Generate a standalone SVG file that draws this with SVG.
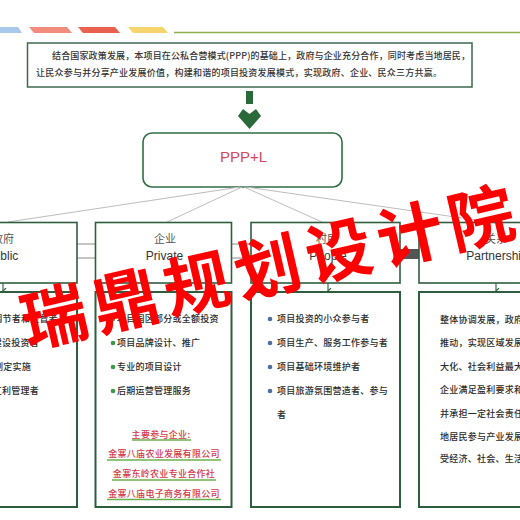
<svg xmlns="http://www.w3.org/2000/svg" width="520" height="520" viewBox="0 0 520 520">
<defs>
<style>
.cj{font-family:"Noto Sans CJK SC",sans-serif;}
.lt{font-family:"Liberation Sans","Noto Sans CJK SC",sans-serif;}
.box{fill:#fff;stroke:#2f5e3f;stroke-width:1.6;}
.bbox{fill:#fff;stroke:#2f5e3f;stroke-width:2;}
.lab{font-size:11px;fill:#555;text-anchor:middle;}
.en{font-size:12px;fill:#333;text-anchor:middle;}
.li{font-size:9px;fill:#2a2a2a;font-weight:500;letter-spacing:0.25px;}
.co{font-size:9px;fill:#d6384c;font-weight:500;text-anchor:middle;letter-spacing:0.3px;}
.ul{stroke:#6ab04c;stroke-width:1.5;}
.fan{stroke:#bdbdbd;stroke-width:1;fill:none;}
.thin{stroke:#8a8a8a;stroke-width:1;fill:none;}
.dn{stroke:#2f6e45;stroke-width:1.2;fill:none;}
</style>
<marker id="oh" markerWidth="8" markerHeight="8" refX="6" refY="3" orient="auto" markerUnits="userSpaceOnUse">
<path d="M0,0 L6,3 L0,6" fill="none" stroke="#6a6a6a" stroke-width="1"/>
</marker>
<marker id="gh" markerWidth="8" markerHeight="8" refX="3" refY="5" orient="auto-start-reverse" markerUnits="userSpaceOnUse" viewBox="0 0 8 8">
<path d="M0,2 L3,5 L6,2" fill="none" stroke="#2f6e45" stroke-width="1.2"/>
</marker>
</defs>
<rect width="520" height="520" fill="#fff"/>

<g id="decoration">
<polygon points="0,27 18,27 22,33 0,33" fill="#a9c9ec"/>
<polygon points="29,27 67,27 72,33 34,33" fill="#f28c7c"/>
<polygon points="78,27 115,27 120,33 83,33" fill="#e9604f"/>
<polygon points="128,27 163,27 168,33 133,33" fill="#f6d66c"/>
<line x1="174" y1="32.5" x2="520" y2="32.5" stroke="#8db04f" stroke-width="1.6"/>
</g>

<g id="intro">
<rect x="27.5" y="43" width="444.5" height="44" fill="#fff" stroke="#3d6a4d" stroke-width="1.5"/>
<text class="cj" x="52" y="59" font-size="9" font-weight="500" fill="#333" textLength="418" lengthAdjust="spacing">结合国家政策发展，本项目在公私合营模式(PPP)的基础上，政府与企业充分合作，同时考虑当地居民，</text>
<text class="cj" x="36" y="75.5" font-size="9" font-weight="500" fill="#333" textLength="406" lengthAdjust="spacing">让民众参与并分享产业发展价值，构建和谐的项目投资发展模式，实现政府、企业、民众三方共赢。</text>
</g>

<g id="down-arrow">
<rect x="246" y="91" width="7" height="13" fill="#2a6a3a"/>
<polygon points="249.5,114 256,109 261,116 249.5,129 238,116 243,109" fill="#2a6a3a"/>
</g>

<g id="ppp">
<rect x="143" y="133" width="199" height="54" rx="9" fill="#fff" stroke="#2f6e45" stroke-width="1.6"/>
<text class="lt" x="243.5" y="162" font-size="15" fill="#d24a5a" text-anchor="middle">PPP+L</text>
</g>

<g id="connectors">
<line class="fan" x1="240" y1="187" x2="8" y2="222"/>
<line class="fan" x1="242" y1="187" x2="167" y2="222"/>
<line class="fan" x1="244" y1="187" x2="322" y2="222"/>
<line class="fan" x1="246" y1="187" x2="490" y2="222"/>
<line class="thin" x1="60" y1="244" x2="112" y2="244" marker-end="url(#oh)"/>
<line class="thin" x1="113" y1="258" x2="61" y2="258" marker-end="url(#oh)"/>
<line class="thin" x1="215" y1="244" x2="270" y2="244" marker-end="url(#oh)"/>
<line class="thin" x1="270" y1="258" x2="215" y2="258"/>
<polygon points="387,249 423,249 423,246 433,254 423,263 423,259 387,259" fill="#555"/>
<line class="dn" x1="3" y1="283" x2="3" y2="291" marker-end="url(#gh)"/>
<line class="dn" x1="170" y1="283" x2="170" y2="291" marker-end="url(#gh)"/>
<line class="dn" x1="328" y1="283" x2="328" y2="291" marker-end="url(#gh)"/>
<line class="dn" x1="496" y1="283" x2="496" y2="291" marker-end="url(#gh)"/>
</g>

<g id="public">
<rect class="box" x="-72" y="222.5" width="149" height="60.5"/>
<text class="cj lab" x="3" y="243">政府</text>
<text class="lt en" x="2" y="259.5">Public</text>
</g>
<g id="private">
<rect class="box" x="95.5" y="222.5" width="136" height="60.5"/>
<text class="cj lab" x="165" y="243">企业</text>
<text class="lt en" x="164.5" y="259.5">Private</text>
</g>
<g id="people">
<rect class="box" x="251" y="222.5" width="149" height="60.5"/>
<text class="cj lab" x="327" y="243">村民</text>
<text class="lt en" x="328" y="259.5">People</text>
</g>
<g id="partnership">
<rect class="box" x="419" y="222.5" width="155" height="60.5"/>
<text class="cj lab" x="496" y="243">关系</text>
<text class="lt en" x="497" y="259.5">Partnership</text>
</g>

<g id="public-roles">
<rect class="bbox" x="-72" y="292" width="149" height="215"/>
<text class="cj li" x="58" y="322" text-anchor="end">宏观调节者和监督者</text>
<text class="cj li" x="39" y="346" text-anchor="end">基础建设投资者</text>
<text class="cj li" x="31" y="370" text-anchor="end">规划制定实施</text>
<text class="cj li" x="39" y="394" text-anchor="end">公共红利管理者</text>
</g>

<g id="private-roles">
<rect class="bbox" x="95.5" y="292" width="136" height="215"/>
<g fill="#3a9a4a">
<circle cx="113" cy="319" r="2.3"/>
<circle cx="113" cy="343" r="2.3"/>
<circle cx="113" cy="367" r="2.3"/>
<circle cx="113" cy="391" r="2.3"/>
</g>
<text class="cj li" x="117" y="322">项目园区部分或全额投资</text>
<text class="cj li" x="117" y="346">项目品牌设计、推广</text>
<text class="cj li" x="117" y="370">专业的项目设计</text>
<text class="cj li" x="117" y="394">后期运营管理服务</text>
<text class="cj co" x="161" y="438">主要参与企业:</text>
<line class="ul" x1="132" y1="440" x2="191" y2="440"/>
<text class="cj co" x="164" y="457">金寨八庙农业发展有限公司</text>
<line class="ul" x1="107" y1="460" x2="221" y2="460"/>
<text class="cj co" x="164" y="477">金寨东岭农业专业合作社</text>
<line class="ul" x1="112" y1="480" x2="216" y2="480"/>
<text class="cj co" x="164" y="496.5">金寨八庙电子商务有限公司</text>
<line class="ul" x1="107" y1="499.5" x2="221" y2="499.5"/>
</g>

<g id="people-roles">
<rect class="bbox" x="251" y="292" width="149" height="215"/>
<g fill="#4f6fa0">
<circle cx="270" cy="319" r="2.3"/>
<circle cx="270" cy="343" r="2.3"/>
<circle cx="270" cy="367" r="2.3"/>
<circle cx="270" cy="391" r="2.3"/>
</g>
<text class="cj li" x="277" y="322">项目投资的小众参与者</text>
<text class="cj li" x="277" y="346">项目生产、服务工作参与者</text>
<text class="cj li" x="277" y="370">项目基础环境维护者</text>
<text class="cj li" x="277" y="394">项目旅游氛围营造者、参与</text>
<text class="cj li" x="277" y="418">者</text>
</g>

<g id="partnership-roles">
<rect class="bbox" x="419" y="292" width="155" height="215"/>
<text class="cj li" x="440" y="323" letter-spacing="0.8">整体协调发展，政府引导</text>
<text class="cj li" x="440" y="346" letter-spacing="0.8">推动，实现区域发展效益</text>
<text class="cj li" x="440" y="370" letter-spacing="0.8">大化、社会利益最大化</text>
<text class="cj li" x="440" y="393" letter-spacing="0.8">企业满足盈利要求和发展</text>
<text class="cj li" x="440" y="417" letter-spacing="0.8">并承担一定社会责任，带</text>
<text class="cj li" x="440" y="440" letter-spacing="0.8">地居民参与产业发展，共</text>
<text class="cj li" x="440" y="462" letter-spacing="0.8">受经济、社会、生活效益</text>
</g>

<g id="watermark">
<text class="cj" x="270" y="262" font-size="66" font-weight="700" fill="#ff0000" text-anchor="middle" dominant-baseline="central" letter-spacing="7" transform="rotate(-13 270 262)">瑞鼎规划设计院</text>
</g>
</svg>
